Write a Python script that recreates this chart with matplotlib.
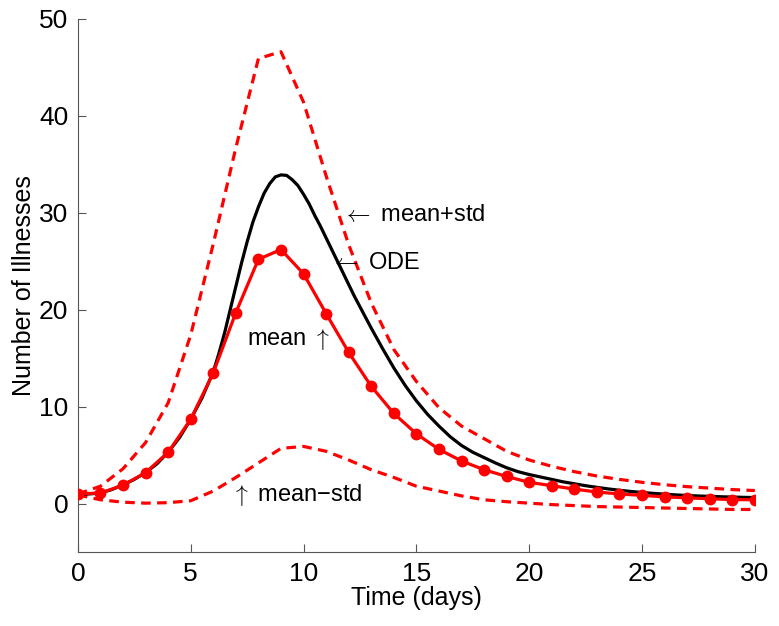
import matplotlib
matplotlib.use('Agg')
import matplotlib.pyplot as plt

plt.rcParams['font.family'] = ['Liberation Sans', 'DejaVu Sans']
plt.rcParams['mathtext.fontset'] = 'cm'

# simulation days and sampled statistics
days = list(range(31))
mean_ill = [1.0, 1.1, 1.9, 3.2, 5.3, 8.7, 13.5, 19.7, 25.2, 26.2,
            23.7, 19.6, 15.6, 12.1, 9.3, 7.2, 5.6, 4.4, 3.5, 2.8,
            2.2, 1.85, 1.5, 1.2, 1.0, 0.85, 0.7, 0.6, 0.5, 0.42, 0.4]
mean_plus_std = [1.0, 1.8, 3.6, 6.3, 10.4, 17.4, 26.8, 36.7, 45.9, 46.6,
                 41.4, 33.8, 26.7, 20.7, 15.9, 12.6, 9.9, 8.0, 6.7, 5.4,
                 4.5, 3.85, 3.3, 2.85, 2.5, 2.2, 1.95, 1.75, 1.6, 1.45, 1.35]
mean_minus_std = [0.9, 0.4, 0.15, 0.05, 0.1, 0.3, 1.3, 2.7, 4.2, 5.7,
                  5.9, 5.4, 4.5, 3.5, 2.7, 1.8, 1.3, 0.8, 0.4, 0.2,
                  0.05, -0.1, -0.2, -0.3, -0.35, -0.4, -0.45, -0.5, -0.55, -0.6, -0.6]

# ODE solution: half-day readings, quarter-day around the peak
ode_t = ([0, 0.5, 1, 1.5, 2, 2.5, 3, 3.5, 4, 4.5, 5, 5.5]
         + [6 + 0.25 * i for i in range(29)]
         + [13.5 + 0.5 * i for i in range(34)])
ode_ill = [0.95, 1.0, 1.1, 1.45, 1.95, 2.5, 3.2, 4.1, 5.3, 6.8, 8.7, 10.9,
           13.6, 15.5, 17.6, 20.0, 22.4, 24.8, 27.0, 29.0, 30.6, 32.0,
           33.0, 33.7, 33.9, 33.85, 33.4, 32.8, 31.9, 30.9, 29.7, 28.6,
           27.4, 26.2, 25.0, 23.8, 22.6, 21.4, 20.3, 19.2, 18.1,
           16.0, 14.0, 12.2, 10.6, 9.2, 8.0, 6.9, 6.0, 5.3, 4.75,
           4.2, 3.7, 3.3, 3.0, 2.75, 2.5, 2.25, 2.05, 1.85, 1.68,
           1.52, 1.38, 1.26, 1.15, 1.06, 0.98, 0.9, 0.84, 0.79, 0.75,
           0.71, 0.68, 0.65, 0.63]

fig = plt.figure(figsize=(7.79, 6.26), dpi=100)
ax = fig.add_axes([0.100, 0.118, 0.869, 0.852])

ax.plot(days, mean_plus_std, color='red', lw=2.3, dashes=(3, 2), zorder=2)
ax.plot(days, mean_minus_std, color='red', lw=2.3, dashes=(3, 2), zorder=2)
ax.plot(ode_t, ode_ill, color='black', lw=2.3, zorder=3)
ax.plot(days, mean_ill, color='red', lw=2.3, marker='o', ms=7.5, zorder=4)

txt = dict(fontsize=17, ha='left', va='center')
ax.text(11.7, 29.8, r'$\leftarrow$ mean+std', **txt)
ax.text(11.17, 24.85, r'$\leftarrow$ ODE', **txt)
ax.text(7.49, 16.9, r'mean $\uparrow$', **txt)
ax.text(6.8, 0.9, '$\\uparrow$ mean\u2212std', **txt)

ax.set_xlim(0, 30)
ax.set_ylim(-5, 50)
ax.set_xticks(range(0, 31, 5))
ax.set_yticks(range(0, 51, 10))
for side in ('top', 'right'):
    ax.spines[side].set_visible(False)
for side in ('left', 'bottom'):
    ax.spines[side].set_color('#555555')
    ax.spines[side].set_linewidth(0.8)
ax.tick_params(direction='in', length=6, width=0.8, color='#555555',
               labelsize=19, pad=7)

ax.set_xlabel('Time (days)', fontsize=18, labelpad=0)
ax.set_ylabel('Number of Illnesses', fontsize=18, labelpad=2)

fig.savefig('out.png', dpi=100)
